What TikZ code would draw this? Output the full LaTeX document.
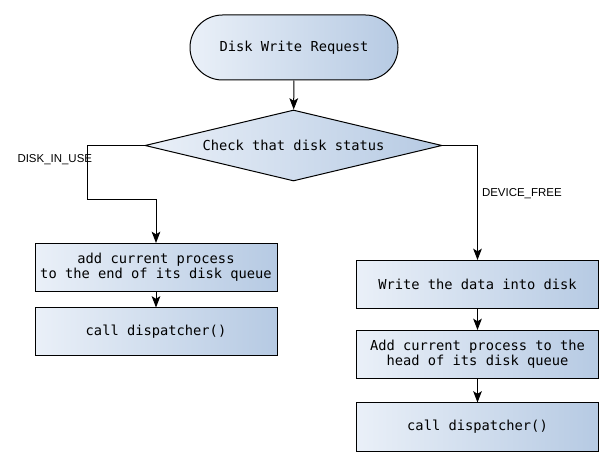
\documentclass[tikz,border=0pt]{standalone}
\usepackage{fontspec}
\setmonofont{DejaVu Sans Mono}
\newfontfamily\labelfont{Liberation Sans}
\usepackage{tikz}
\usetikzlibrary{arrows.meta,shapes.geometric,shapes.misc}
\definecolor{boxleft}{HTML}{EAF0F8}
\definecolor{boxright}{HTML}{B6CAE3}
\tikzset{
  flowbox/.style={draw, left color=boxleft, right color=boxright,
    font=\ttfamily\fontsize{10.3}{11.4}\selectfont, align=center, inner sep=0pt},
  procbox/.style={flowbox, rectangle, minimum width=242*0.75pt, minimum height=48*0.75pt},
  termbox/.style={flowbox, rounded rectangle, minimum width=208*0.75pt, minimum height=65*0.75pt},
  testbox/.style={flowbox, diamond, aspect=4.2, minimum width=297*0.75pt, minimum height=71*0.75pt},
  branch/.style={font=\labelfont\fontsize{8.6}{10}\selectfont, inner sep=0pt}
}

\begin{document}
\begin{tikzpicture}[x=0.75pt, y=-0.75pt, >={Stealth[length=8.5pt,width=6.5pt,inset=2pt]}, line width=0.75pt]
      \useasboundingbox (0,0) rectangle (614,466);

      \node[termbox] (req) at (294,47.5) {Disk Write Request};
      \node[testbox] (check) at (293.5,145.5) {Check that disk status};

      \node[procbox] (addend) at (156,267.5) {add current process\\to the end of its disk queue};
      \node[procbox] (calll) at (156,332) {call dispatcher()};

      \node[procbox] (write) at (477.5,284.5) {Write the data into disk};
      \node[procbox] (addhead) at (477.5,354.5) {Add current process to the\\head of its disk queue};
      \node[procbox] (callr) at (477.5,427) {call dispatcher()};

      \coordinate (lbend) at (87,200);
      \node[branch, anchor=west] (inuse) at (17,160) {DISK\_IN\_USE};
      \node[branch, anchor=west] (free) at (481.5,194) {DEVICE\_FREE};

      \draw[->] (req) -- (check);
      \draw[->] (check.west) -| (lbend) -| (addend.north);
      \draw[->] (addend) -- (calll);
      \draw[->] (check.east) -| (write.north);
      \draw[->] (write) -- (addhead);
      \draw[->] (addhead) -- (callr);
    \end{tikzpicture}
\end{document}
